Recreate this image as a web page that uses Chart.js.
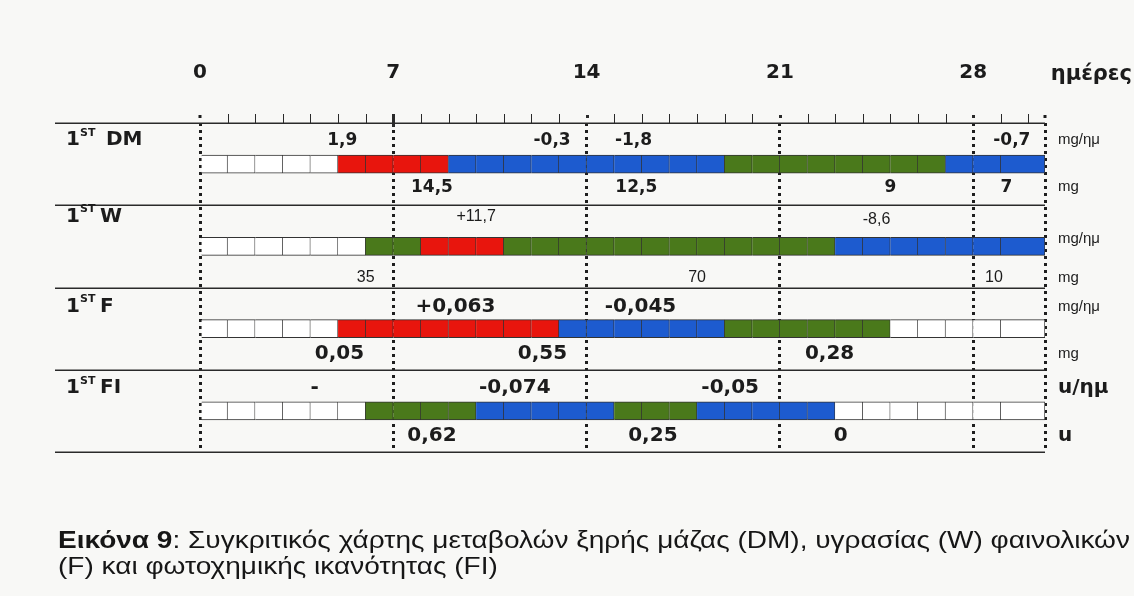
<!DOCTYPE html>
<html>
<head>
<meta charset="utf-8">
<script src="https://cdn.jsdelivr.net/npm/chart.js@4.4.1/dist/chart.umd.min.js"></script>
<style>
  html, body { margin: 0; padding: 0; background: #f8f8f6; }
  #wrap { width: 1134px; height: 596px; }
</style>
</head>
<body>
<div id="wrap"><canvas id="myChart" width="1134" height="596"></canvas></div>
<script>
const rows = ['DM', 'W', 'F', 'FI'];
const dayTicks = [0, 7, 14, 21, 28];
const lastDay = 30.6;

// one letter per day: w = white, r = red, b = blue, g = green
const dmCells = 'wwwwwrrrrbbbbbbbbbbggggggggbbb';
const wCells = 'wwwwwwggrrrggggggggggggbbbbbbb';
const fCells = 'wwwwwrrrrrrrrbbbbbbggggggwwwww';
const fiCells = 'wwwwwwggggbbbbbgggbbbbbwwwwwww';

// values written above (rate) and below (amount) each strip, with the day they sit at
const dmRate = ['1,9', '-0,3', '-1,8', '-0,7'];
const dmRateDay = [5.15, 12.75, 15.7, 29.4];
const dmMass = ['14,5', '12,5', '9', '7'];
const dmMassDay = [8.4, 15.8, 25, 29.2];
const wRate = ['+11,7', '-8,6'];
const wRateDay = [10, 24.5];
const wMass = ['35', '70', '10'];
const wMassDay = [6, 18, 28.75];
const fRate = ['+0,063', '-0,045'];
const fRateDay = [9.25, 15.95];
const fMass = ['0,05', '0,55', '0,28'];
const fMassDay = [5.05, 12.4, 22.8];
const fiRate = ['-', '-0,074', '-0,05'];
const fiRateDay = [4.15, 11.4, 19.2];
const fiMass = ['0,62', '0,25', '0'];
const fiMassDay = [8.4, 16.4, 23.2];
const rateUnits = ['mg/ημ', 'mg/ημ', 'mg/ημ', 'u/ημ'];
const massUnits = ['mg', 'mg', 'mg', 'u'];
const axisTitle = 'ημέρες';
const captionBold = 'Εικόνα 9';
const captionLine1 = ': Συγκριτικός χάρτης μεταβολών ξηρής μάζας (DM), υγρασίας (W) φαινολικών';
const captionLine2 = '(F) και φωτοχημικής ικανότητας (FI)';

const cellColors = { w: '#ffffff', r: '#e8150d', b: '#1d5bcf', g: '#4a791b' };
const stripCells = [dmCells, wCells, fCells, fiCells];
const rateText = [dmRate, wRate, fRate, fiRate];
const rateDays = [dmRateDay, wRateDay, fRateDay, fiRateDay];
const massText = [dmMass, wMass, fMass, fiMass];
const massDays = [dmMassDay, wMassDay, fMassDay, fiMassDay];

const bars = [];
const barColors = [];
stripCells.forEach((cells, r) => {
  for (let d = 0; d < cells.length; d++) {
    const end = d === cells.length - 1 ? lastDay : d + 1;
    bars.push({ x: [d, end], y: rows[r] });
    barColors.push(cellColors[cells[d]]);
  }
});

const BOLD = 'DejaVu Sans';
const PLAIN = 'Liberation Sans';

// offsets of the text lines from each strip
const rateDy = [-24, -30, -22, -23];
const massDy = [23, 31, 25, 25];
const rateFont = ['bold 17px ' + BOLD, '16px ' + PLAIN, 'bold 20px ' + BOLD, 'bold 20px ' + BOLD];
const unitFont = ['15px ' + PLAIN, '15px ' + PLAIN, '15px ' + PLAIN, 'bold 20px ' + BOLD];

const overlay = {
  id: 'overlay',
  afterDraw(chart) {
    const { ctx, chartArea: area, scales: { x, y } } = chart;
    const rowH = (area.bottom - area.top) / rows.length;
    ctx.save();
    ctx.fillStyle = '#1c1c1c';
    ctx.strokeStyle = '#2a2a2a';

    // row separators
    ctx.lineWidth = 1.5;
    for (let i = 0; i <= rows.length; i++) {
      const yy = Math.round(area.top + i * rowH) + 0.25;
      ctx.beginPath();
      ctx.moveTo(55, yy);
      ctx.lineTo(area.right, yy);
      ctx.stroke();
    }

    // day ticks above the first row
    for (let d = 1; d < lastDay; d++) {
      const xx = Math.round(x.getPixelForValue(d)) + 0.5;
      ctx.beginPath();
      if (d === 7) {
        ctx.lineWidth = 3;
        ctx.moveTo(xx, area.top - 9);
        ctx.lineTo(xx, area.top + 4);
      } else if (d % 7 === 0) {
        ctx.lineWidth = 3;
        ctx.moveTo(xx, area.top - 8);
        ctx.lineTo(xx, area.top - 5);
      } else {
        ctx.lineWidth = 1;
        ctx.moveTo(xx, area.top - 9);
        ctx.lineTo(xx, area.top);
      }
      ctx.stroke();
    }
    ctx.fillRect(area.left - 1.5, area.top - 8, 3, 3);
    ctx.fillRect(area.right - 1.5, area.top - 8, 3, 3);

    ctx.textBaseline = 'middle';
    // axis title
    ctx.font = 'bold 21px ' + BOLD;
    ctx.textAlign = 'right';
    ctx.fillText(axisTitle, 1132, area.top - 48);

    rows.forEach((name, r) => {
      const c = y.getPixelForValue(r);
      const ly = c + rateDy[r];
      // row label 1^ST name
      ctx.textAlign = 'left';
      ctx.font = 'bold 20px ' + BOLD;
      ctx.fillText('1', 66, ly);
      ctx.font = 'bold 11px ' + BOLD;
      ctx.fillText('ST', 80, ly - 7);
      ctx.font = 'bold 20px ' + BOLD;
      ctx.fillText(name, r === 0 ? 106 : 100, ly);

      // values
      ctx.textAlign = 'center';
      ctx.font = rateFont[r];
      rateText[r].forEach((t, i) => {
        const dy = r === 1 && i === 1 ? 3 : 0;
        ctx.fillText(t, x.getPixelForValue(rateDays[r][i]), ly + dy);
      });
      massText[r].forEach((t, i) => {
        ctx.fillText(t, x.getPixelForValue(massDays[r][i]), c + massDy[r]);
      });

      // units
      ctx.textAlign = 'left';
      ctx.font = unitFont[r];
      ctx.fillText(rateUnits[r], 1058, r === 1 ? c - 8 : ly);
      ctx.fillText(massUnits[r], 1058, c + massDy[r]);
    });

    // caption
    ctx.textAlign = 'left';
    ctx.fillStyle = '#161616';
    const capFont = '24px ' + PLAIN;
    ctx.font = 'bold ' + capFont;
    const wb = ctx.measureText(captionBold).width;
    ctx.font = capFont;
    const w1 = wb + ctx.measureText(captionLine1).width;
    const sx = 1072 / w1;
    ctx.translate(58, 0);
    ctx.scale(sx, 1);
    ctx.font = 'bold ' + capFont;
    ctx.fillText(captionBold, 0, 541);
    ctx.font = capFont;
    ctx.fillText(captionLine1, wb, 541);
    ctx.fillText(captionLine2, 0, 567);
    ctx.restore();
  }
};

new Chart(document.getElementById('myChart'), {
  type: 'bar',
  data: {
    labels: rows,
    datasets: [{
      data: bars,
      backgroundColor: barColors,
      borderColor: '#333333',
      borderWidth: 1,
      borderSkipped: 'left',
      barThickness: 18
    }]
  },
  options: {
    indexAxis: 'y',
    responsive: false,
    animation: false,
    layout: { padding: { left: 200, right: 89, top: 23, bottom: 144 } },
    plugins: {
      legend: { display: false },
      tooltip: { enabled: false }
    },
    scales: {
      x: {
        type: 'linear',
        position: 'top',
        min: 0,
        max: lastDay,
        z: 1,
        afterBuildTicks: (s) => {
          s.ticks = dayTicks.concat([lastDay]).map(v => ({ value: v }));
        },
        ticks: {
          callback: (v) => dayTicks.includes(v) ? String(v) : '',
          font: { family: BOLD, size: 20, weight: 'bold' },
          color: '#1c1c1c',
          padding: 38,
          autoSkip: false,
          maxRotation: 0
        },
        grid: { color: '#1e1e1e', lineWidth: 3, drawTicks: false },
        border: { display: false, dash: [3, 4] }
      },
      y: { display: false }
    }
  },
  plugins: [overlay]
});
</script>
</body>
</html>
